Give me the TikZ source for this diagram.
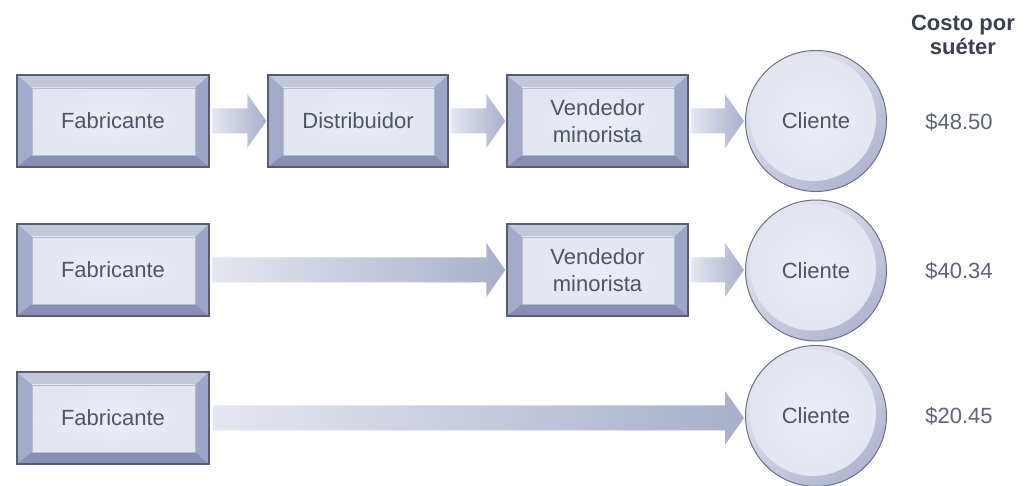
\documentclass[tikz,border=0pt]{standalone}
\usepackage{fontspec}
\setmainfont{Liberation Sans}
\usetikzlibrary{calc}
\definecolor{boxline}{HTML}{565D70}
\definecolor{bevtop}{HTML}{C2C7DA}
\definecolor{bevleft}{HTML}{A4ABCA}
\definecolor{bevright}{HTML}{9EA6C7}
\definecolor{bevbot}{HTML}{878FB5}
\definecolor{face}{HTML}{E3E6F1}
\definecolor{facein}{HTML}{EBEDF6}
\definecolor{faceline}{HTML}{B6BCCF}
\definecolor{txt}{HTML}{4E5567}
\definecolor{pricecol}{HTML}{5E6475}
\definecolor{headcol}{HTML}{3B4150}
\definecolor{arrL}{HTML}{E4E7F0}
\definecolor{arrR}{HTML}{A8AFCB}
\definecolor{circline}{HTML}{6A7085}
\definecolor{circL}{HTML}{E4E6F1}
\definecolor{circD}{HTML}{B0B6D0}
\definecolor{cface}{HTML}{E2E5F0}
\definecolor{cfacein}{HTML}{ECEEF6}
\newcommand{\labfont}{\fontsize{22}{27}\selectfont}
\newcommand{\fatarrow}[2]{%
  \path[shade, left color=arrL, right color=arrR]
    let \p1=(#1.east), \p2=(#2.west) in
    (\x1+3pt,\y1+12.5pt) -- (\x2-20pt,\y1+12.5pt) -- (\x2-20pt,\y1+27pt)
    -- (\x2-1pt,\y1) -- (\x2-20pt,\y1-27pt) -- (\x2-20pt,\y1-12.5pt)
    -- (\x1+3pt,\y1-12.5pt) -- cycle;}
\tikzset{
  bevelbox/.style={rectangle, minimum height=92pt, inner sep=0pt,
    draw=boxline, line width=1.3pt, fill=bevtop, align=center,
    font=\labfont, text=txt,
    path picture={
      \fill[bevleft] let \p1=(path picture bounding box.south west),
        \p2=(path picture bounding box.north east) in
        (\x1,\y1) -- (\x1+15pt,\y1+12pt) -- (\x1+15pt,\y2-13pt) -- (\x1,\y2) -- cycle;
      \fill[bevright] let \p1=(path picture bounding box.south west),
        \p2=(path picture bounding box.north east) in
        (\x2,\y1) -- (\x2-14pt,\y1+12pt) -- (\x2-14pt,\y2-13pt) -- (\x2,\y2) -- cycle;
      \fill[bevbot] let \p1=(path picture bounding box.south west),
        \p2=(path picture bounding box.north east) in
        (\x1,\y1) -- (\x1+15pt,\y1+12pt) -- (\x2-14pt,\y1+12pt) -- (\x2,\y1) -- cycle;
      \shade[inner color=facein, outer color=face, draw=faceline, line width=0.6pt]
        let \p1=(path picture bounding box.south west),
        \p2=(path picture bounding box.north east) in
        (\x1+15pt,\y1+12pt) rectangle (\x2-14pt,\y2-13pt);
    }},
  fabbox/.style={bevelbox, minimum width=192pt},
  midbox/.style={bevelbox, minimum width=181pt},
  clientcirc/.style={circle, minimum size=141pt, inner sep=0pt,
    draw=circline, line width=1pt, top color=circL, bottom color=circD,
    shading angle=40, font=\labfont, text=txt,
    path picture={
      \shade[inner color=cfacein, outer color=cface]
        ([shift={(-3pt,3pt)}]path picture bounding box.center) circle (63pt);
    }},
  pricetxt/.style={font=\labfont, text=pricecol},
  headtxt/.style={font=\labfont\bfseries, text=headcol, align=center}
}
\begin{document}
\begin{tikzpicture}[x=1pt,y=1pt]
\useasboundingbox[fill=white] (0,0) rectangle (1026,485);
% row 1
\node[fabbox] (f1) at (113,364) {Fabricante};
\node[midbox, minimum width=180pt] (d1) at (358,364) {Distribuidor};
\node[midbox] (v1) at (597.5,364) {Vendedor\\minorista};
\node[clientcirc] (c1) at (816,364) {Cliente};
% row 2
\node[fabbox] (f2) at (113,215) {Fabricante};
\node[midbox] (v2) at (597.5,215) {Vendedor\\minorista};
\node[clientcirc] (c2) at (816,214.5) {Cliente};
% row 3
\node[fabbox] (f3) at (113,67) {Fabricante};
\node[clientcirc] (c3) at (816,69) {Cliente};
% arrows
\fatarrow{f1}{d1}
\fatarrow{d1}{v1}
\fatarrow{v1}{c1}
\fatarrow{f2}{v2}
\fatarrow{v2}{c2}
\fatarrow{f3}{c3}
% heading and prices
\node[headtxt] (hd) at (963,450) {Costo por\\[-3pt]suéter};
\node[pricetxt] (p1) at (959,363) {\$48.50};
\node[pricetxt] (p2) at (959,214) {\$40.34};
\node[pricetxt] (p3) at (959,69) {\$20.45};
\end{tikzpicture}
\end{document}
